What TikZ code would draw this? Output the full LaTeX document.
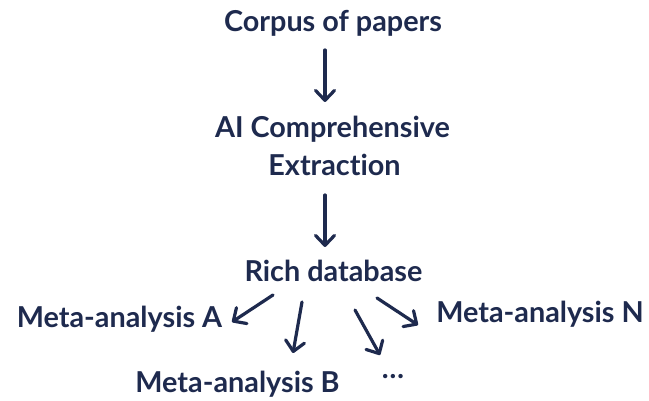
\documentclass[tikz,border=0pt]{standalone}
\usepackage{fontspec}
\setmainfont{Lato}[Ligatures=NoCommon]
\usetikzlibrary{arrows.meta}
\definecolor{ink}{RGB}{30,42,78}
\tikzset{
  label/.style={anchor=base, inner sep=0pt, text=ink, font=\bfseries\fontsize{28.8}{34}\selectfont},
  flow/.style={draw=ink, line width=3.2pt, line cap=round, line join=round,
    -{Straight Barb[length=10pt, width=19pt, line cap=round, line join=round]}}
}
\begin{document}
\begin{tikzpicture}[x=1pt, y=-1pt]
  \useasboundingbox (0,0) rectangle (649,401);

  % pipeline stages
  \node[label] (corpus) at (333,32) {Corpus of papers};
  \node[label] (ai)     at (332.5,138) {AI Comprehensive};
  \node[label] (extr)   at (334.5,176) {Extraction};
  \node[label] (rich)   at (333.5,282) {Rich database};

  % downstream analyses
  \node[label] (metaA) at (119.5,327) {Meta-analysis A};
  \node[label] (metaN) at (540,323) {Meta-analysis N};
  \node[label] (metaB) at (237.5,392) {Meta-analysis B};
  \node[label] (dots)  at (393,378) {…};

  % arrow end points
  \coordinate (c1s) at (325,50);  \coordinate (c1e) at (325,102);
  \coordinate (c2s) at (325,195); \coordinate (c2e) at (325,247);
  \coordinate (aAs) at (273,295); \coordinate (aAe) at (232,322);
  \coordinate (aBs) at (302,302); \coordinate (aBe) at (293,353);
  \coordinate (aDs) at (355,310); \coordinate (aDe) at (380,355);
  \coordinate (aNs) at (377,298); \coordinate (aNe) at (418,325);

  \draw[flow] (c1s) -- (c1e);
  \draw[flow] (c2s) -- (c2e);
  \draw[flow] (aAs) -- (aAe);
  \draw[flow] (aBs) -- (aBe);
  \draw[flow] (aDs) -- (aDe);
  \draw[flow] (aNs) -- (aNe);
\end{tikzpicture}
\end{document}
